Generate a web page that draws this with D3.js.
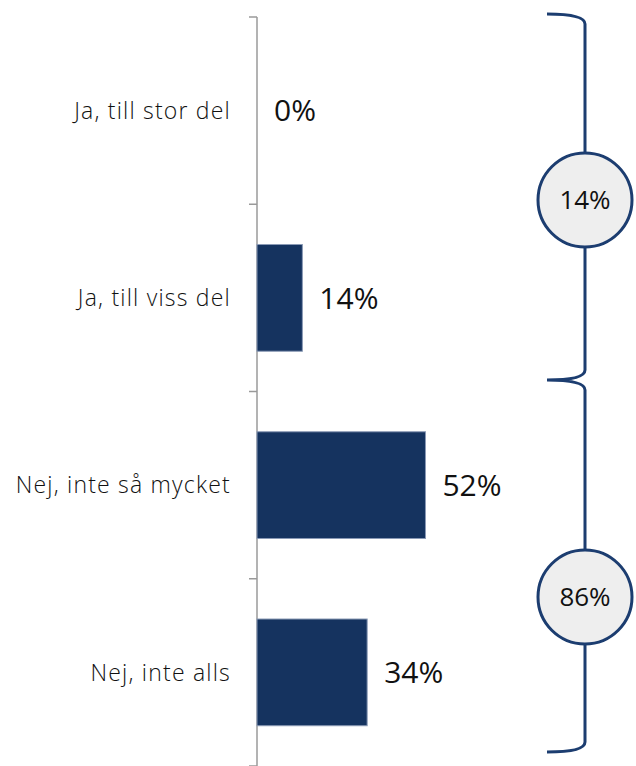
<!DOCTYPE html>
<html><head><meta charset="utf-8">
<script src="https://cdn.jsdelivr.net/npm/d3@7"></script>
<style>body{margin:0;background:#fff}svg{display:block}</style>
</head><body>
<script>
const categories = ["Ja, till stor del","Ja, till viss del","Nej, inte så mycket","Nej, inte alls"];
const values = [0, 14, 52, 34];
const valueLabels = ["0%","14%","52%","34%"];
const groupLabels = ["14%","86%"];

const W = 636, H = 766;
const svg = d3.select("body").append("svg").attr("width", W).attr("height", H);
const x0 = 257;
const x = d3.scaleLinear().domain([0, 100]).range([x0, x0 + 324]);
const y = d3.scaleBand().domain(categories).range([17, 766]).paddingInner(0.43).paddingOuter(0.215);
const step = y.step();
const font = "'Open Sans', 'Noto Sans', sans-serif";

// axis line and ticks
const axisColor = "#9a9a9a";
svg.append("line").attr("x1", x0).attr("x2", x0).attr("y1", 17).attr("y2", 766)
  .attr("stroke", axisColor).attr("stroke-width", 1.5);
const bounds = categories.map(c => y(c) - step * 0.43 / 2).concat([766]);
svg.selectAll(".tick").data(bounds).join("line")
  .attr("x1", x0 - 8).attr("x2", x0).attr("y1", d => d).attr("y2", d => d)
  .attr("stroke", axisColor).attr("stroke-width", 1.5);

// bars
svg.selectAll(".bar").data(values).join("rect")
  .attr("x", x0).attr("y", (d, i) => y(categories[i]))
  .attr("width", d => x(d) - x0).attr("height", y.bandwidth())
  .attr("fill", "#15335f").attr("stroke", d => d === 0 ? "#999" : "#8a9ab5").attr("stroke-width", 1);

// value labels
svg.selectAll(".vl").data(values).join("text")
  .attr("x", d => x(d) + 17).attr("y", (d, i) => y(categories[i]) + y.bandwidth() / 2)
  .attr("dy", "0.36em").attr("font-family", font).attr("font-size", 30).attr("font-weight", 500).attr("fill", "#111")
  .text((d, i) => valueLabels[i]);

// category labels
svg.selectAll(".cl").data(categories).join("text")
  .attr("x", 231).attr("y", d => y(d) + y.bandwidth() / 2)
  .attr("dy", "0.36em").attr("text-anchor", "end").attr("font-family", font)
  .attr("font-size", 23).attr("font-weight", 300).attr("letter-spacing", 1.2).attr("fill", "#111").text(d => d);

// braces
const bc = "#1c3d70", bx = 585, lx = 547;
const brace = `M${lx},14 Q${bx},14 ${bx},24 L${bx},370 Q${bx},380 ${lx},380 Q${bx},380 ${bx},390 L${bx},742 Q${bx},752 ${lx},752`;
svg.append("path").attr("d", brace).attr("fill", "none").attr("stroke", bc).attr("stroke-width", 3);

const circleY = [200, 597];
svg.selectAll(".gc").data(groupLabels).join("circle")
  .attr("cx", bx).attr("cy", (d, i) => circleY[i]).attr("r", 47)
  .attr("fill", "#eeeeee").attr("stroke", bc).attr("stroke-width", 3);
svg.selectAll(".gt").data(groupLabels).join("text")
  .attr("x", bx).attr("y", (d, i) => circleY[i]).attr("dy", "0.36em")
  .attr("text-anchor", "middle").attr("font-family", font).attr("font-size", 26).attr("fill", "#111")
  .text(d => d);
</script>
</body></html>
